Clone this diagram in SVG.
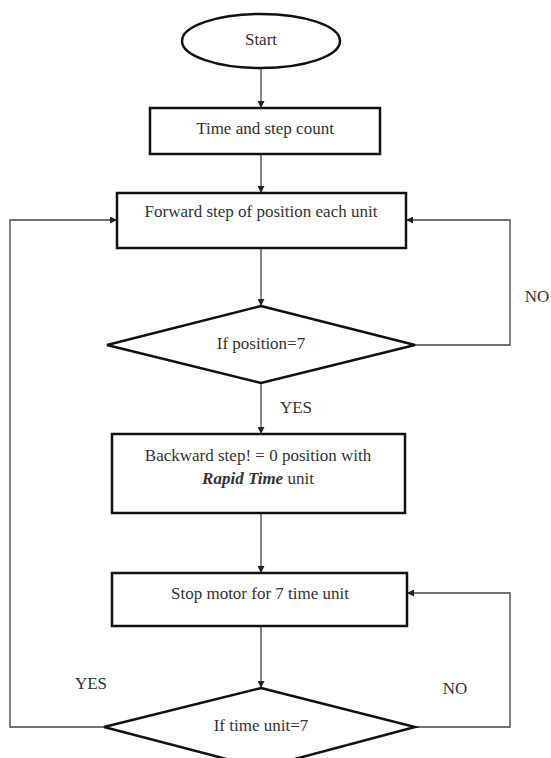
<svg xmlns="http://www.w3.org/2000/svg" width="551" height="758" viewBox="0 0 551 758">
<style>
.box{fill:#fff;stroke:#111;stroke-width:2.5}
.t{font-family:"Liberation Serif",serif;font-size:17px;fill:#333;text-anchor:middle;dominant-baseline:middle}
.c{fill:none;stroke:#444;stroke-width:1.3}
</style>
<defs>
<marker id="ah" viewBox="0 0 10 10" refX="10" refY="5" markerWidth="7" markerHeight="7" orient="auto" markerUnits="userSpaceOnUse">
<path d="M0,0 L10,5 L0,10 z" fill="#222"/>
</marker>
</defs>
<rect width="551" height="758" fill="#fff"/>
<g id="connectors">
<line class="c" x1="261" y1="68" x2="261" y2="108" marker-end="url(#ah)"/>
<line class="c" x1="261" y1="154" x2="261" y2="193" marker-end="url(#ah)"/>
<line class="c" x1="261" y1="248" x2="261" y2="306" marker-end="url(#ah)"/>
<polyline class="c" points="415,345 510,345 510,220 406,220" marker-end="url(#ah)"/>
<line class="c" x1="261" y1="383" x2="261" y2="434" marker-end="url(#ah)"/>
<line class="c" x1="261" y1="513" x2="261" y2="573" marker-end="url(#ah)"/>
<line class="c" x1="261" y1="626" x2="261" y2="688" marker-end="url(#ah)"/>
<polyline class="c" points="415,727 510,727 510,593 407,593" marker-end="url(#ah)"/>
<polyline class="c" points="104,727 10,727 10,220 117,220" marker-end="url(#ah)"/>
<text class="t" x="537" y="298">NO</text>
<text class="t" x="296" y="409">YES</text>
<text class="t" x="91" y="685">YES</text>
<text class="t" x="455" y="690">NO</text>
</g>
<g id="start">
<ellipse class="box" cx="261" cy="41" rx="79" ry="27"/>
<text class="t" x="261" y="41">Start</text>
</g>
<g id="time-step">
<rect class="box" x="150" y="108" width="230" height="46"/>
<text class="t" x="265" y="130">Time and step count</text>
</g>
<g id="forward">
<rect class="box" x="117" y="193" width="289" height="55"/>
<text class="t" x="261" y="213">Forward step of position each unit</text>
</g>
<g id="if-position">
<polygon class="box" points="261,306 415,345 261,383 107,345"/>
<text class="t" x="261" y="345">If position=7</text>
</g>
<g id="backward">
<rect class="box" x="112" y="434" width="293" height="79"/>
<text class="t" x="258" y="457">Backward  step! = 0 position with</text>
<text class="t" x="258" y="480"><tspan font-weight="bold" font-style="italic">Rapid Time</tspan> unit</text>
</g>
<g id="stop-motor">
<rect class="box" x="112" y="573" width="295" height="53"/>
<text class="t" x="260" y="595">Stop motor for 7 time unit</text>
</g>
<g id="if-time">
<polygon class="box" points="261,688 415,727 261,768 104,727"/>
<text class="t" x="261" y="727">If time unit=7</text>
</g>
</svg>
